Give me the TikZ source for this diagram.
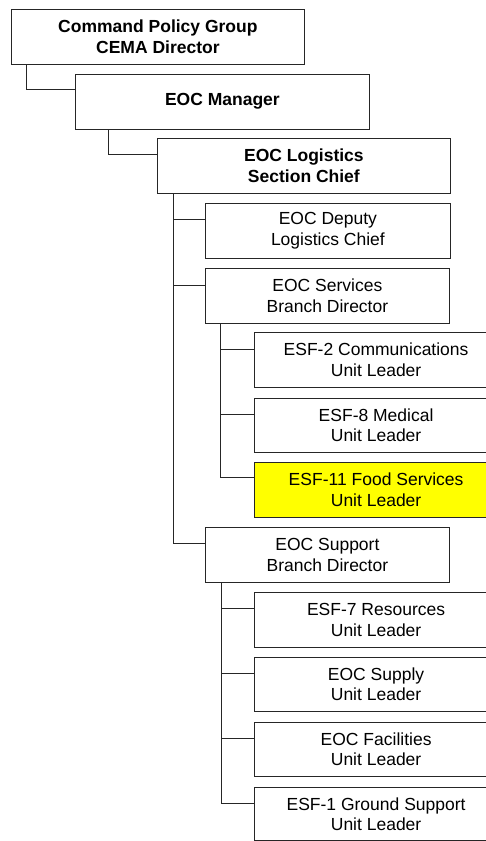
\documentclass[tikz,border=0pt]{standalone}
\usepackage{fontspec}
\setmainfont{Liberation Sans}
\usetikzlibrary{calc}
\begin{document}
\begin{tikzpicture}[x=1pt,y=-1pt,
  box/.style={draw=black!85, line width=0.8pt, anchor=north west, align=center,
    font=\fontsize{17.5}{20.7}\selectfont, inner sep=0pt, minimum height=54.5pt},
  bbox/.style={box, font=\fontsize{17.5}{20.7}\selectfont\bfseries},
  ln/.style={draw=black!85, line width=0.8pt}]
\useasboundingbox (0,0) rectangle (486,841);
\clip (0,0) rectangle (486,841);
\fill[white] (0,0) rectangle (486,841);
% top chain
\node[bbox, minimum width=293pt] (cpg) at (11,9) {Command Policy Group\\CEMA Director};
\node[bbox, minimum width=294pt] (mgr) at (75,74) {EOC Manager};
\node[bbox, minimum width=293pt, minimum height=55pt] (log) at (157,138) {EOC Logistics\\Section Chief};
% logistics children
\node[box, minimum width=245pt, minimum height=55pt] (dep) at (205,203) {EOC Deputy\\Logistics Chief};
\node[box, minimum width=244pt, minimum height=55pt] (srv) at (205,268) {EOC Services\\Branch Director};
\node[box, minimum width=244pt, minimum height=55pt] (sup) at (205,527) {EOC Support\\Branch Director};
% services children
\node[box, minimum width=244pt] (esf2) at (253.7,332.3) {ESF-2 Communications\\Unit Leader};
\node[box, minimum width=244pt] (esf8) at (253.7,397.7) {ESF-8 Medical\\Unit Leader};
\node[box, minimum width=244pt, minimum height=55pt, fill={rgb,255:red,255;green,255;blue,0}] (esf11) at (253.7,461.7) {ESF-11 Food Services\\Unit Leader};
% support children
\node[box, minimum width=244pt] (esf7) at (253.7,592) {ESF-7 Resources\\Unit Leader};
\node[box, minimum width=244pt, minimum height=53.7pt] (supply) at (253.7,657) {EOC Supply\\Unit Leader};
\node[box, minimum width=244pt, minimum height=53.7pt] (fac) at (253.7,722) {EOC Facilities\\Unit Leader};
\node[box, minimum width=244pt, minimum height=53pt] (esf1) at (253.7,787.3) {ESF-1 Ground Support\\Unit Leader};
% connectors
\draw[ln] ($(cpg.south west)+(15.3,0)$) |- ($(mgr.north west)+(0,15)$);
\draw[ln] ($(mgr.south west)+(33,0)$) |- ($(log.north west)+(0,16)$);
\draw[ln] ($(log.south west)+(16.3,0)$) |- ($(dep.north west)+(0,16.3)$);
\draw[ln] ($(log.south west)+(16.3,0)$) |- ($(srv.north west)+(0,17.7)$);
\draw[ln] ($(log.south west)+(16.3,0)$) |- ($(sup.north west)+(0,16)$);
\draw[ln] ($(srv.south west)+(15.7,0)$) |- ($(esf2.north west)+(0,17)$);
\draw[ln] ($(srv.south west)+(15.7,0)$) |- ($(esf8.north west)+(0,16.3)$);
\draw[ln] ($(srv.south west)+(15.7,0)$) |- ($(esf11.north west)+(0,16)$);
\draw[ln] ($(sup.south west)+(16.7,0)$) |- ($(esf7.north west)+(0,16.3)$);
\draw[ln] ($(sup.south west)+(16.7,0)$) |- ($(supply.north west)+(0,16.3)$);
\draw[ln] ($(sup.south west)+(16.7,0)$) |- ($(fac.north west)+(0,16.3)$);
\draw[ln] ($(sup.south west)+(16.7,0)$) |- ($(esf1.north west)+(0,16)$);
\end{tikzpicture}
\end{document}
